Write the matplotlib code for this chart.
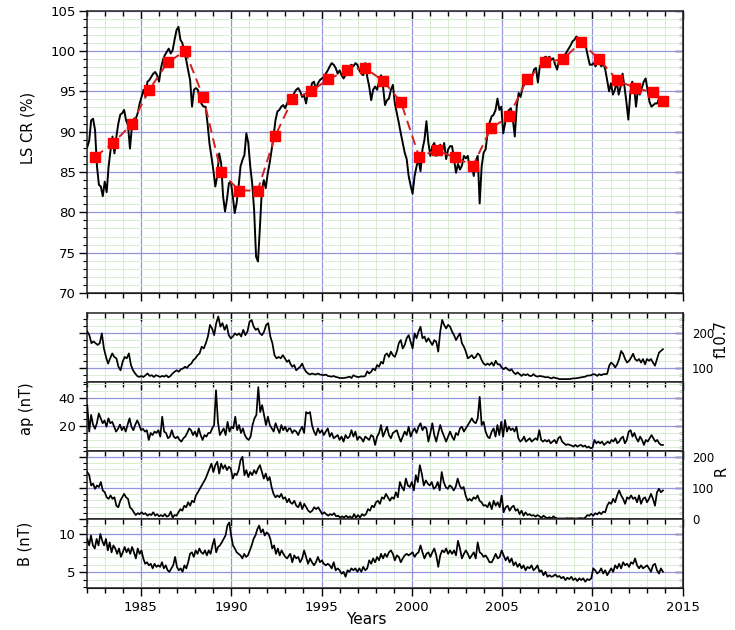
import numpy as np
import matplotlib
matplotlib.use('Agg')
import matplotlib.pyplot as plt
from matplotlib.ticker import MultipleLocator, NullFormatter

plt.rcParams['font.family'] = ['DejaVu Sans']

# the monthly-ish record is kept in three stretches, each evenly spaced in time
SEGMENTS = [(1982.03, 1993.2), (1993.27, 2004.3), (2004.42, 2013.9)]

# LS CR (%)
lscr_a = [88.1, 88.9, 91.4, 91.6, 90.2, 85.7, 83.4, 83.2, 82.0, 83.8,
          82.5, 85.7, 87.7, 89.4, 87.3, 89.4, 91.0, 92.1, 92.3, 92.7,
          91.4, 90.8, 87.9, 90.6, 91.6, 91.6, 92.3, 93.5, 94.3, 95.2,
          94.3, 96.2, 96.4, 96.8, 97.2, 97.4, 97.0, 96.2, 97.9, 98.9,
          99.5, 99.9, 100.3, 99.7, 100.1, 101.4, 102.6, 103.0, 101.4, 101.0,
          99.9, 98.9, 97.6, 96.4, 93.1, 95.2, 95.4, 95.2, 94.0, 93.4,
          93.1, 93.1, 91.0, 88.5, 86.9, 85.2, 83.2, 84.5, 87.3, 86.1,
          82.0, 80.1, 81.6, 83.6, 83.8, 82.0, 79.9, 81.2, 83.2, 85.7,
          86.5, 87.1, 89.8, 88.6, 85.7, 83.6, 80.3, 74.5, 73.9, 78.2,
          82.8, 84.0, 83.0, 84.8, 86.1, 87.7, 89.4, 91.4, 92.5, 92.7,
          93.1, 93.3, 92.9, 93.5, 94.0]
lscr_b = [93.7, 94.1, 94.8, 95.2, 95.4, 95.0, 94.3, 94.5, 93.5, 95.0,
          94.8, 96.0, 96.2, 95.2, 96.0, 96.4, 96.6, 96.8, 97.2, 97.6,
          98.1, 98.5, 98.3, 97.9, 97.2, 97.6, 97.0, 96.6, 97.0, 97.6,
          98.1, 98.3, 98.1, 98.5, 98.3, 97.6, 97.2, 97.0, 98.5, 96.8,
          95.6, 93.9, 95.2, 95.6, 95.2, 96.2, 97.0, 95.6, 93.3, 93.9,
          94.1, 95.2, 95.8, 93.5, 92.3, 91.1, 89.8, 88.6, 87.4, 86.6,
          84.5, 83.3, 82.3, 84.5, 85.7, 86.6, 85.1, 87.8, 89.0, 91.3,
          88.6, 87.0, 88.2, 88.6, 87.0, 87.4, 88.4, 87.6, 88.6, 86.6,
          87.8, 88.2, 88.2, 86.6, 84.9, 86.0, 85.3, 85.8, 87.0, 86.7,
          87.0, 85.3, 86.0, 84.5, 86.4, 87.0, 81.1, 85.7, 87.4, 87.8,
          89.8, 91.1]
lscr_c = [91.9, 92.1, 92.7, 94.1, 92.7, 93.1, 89.8, 91.1, 92.3, 92.7,
          92.9, 91.5, 89.4, 93.1, 94.8, 94.3, 95.4, 97.0, 97.0, 96.8,
          97.0, 96.8, 97.7, 97.9, 96.1, 98.1, 98.5, 99.1, 99.3, 99.1,
          99.3, 98.9, 99.1, 98.3, 97.7, 98.9, 99.1, 99.3, 99.5, 99.9,
          100.3, 100.7, 101.2, 101.4, 101.8, 101.6, 101.6, 101.4, 101.2, 100.5,
          99.3, 98.3, 98.3, 98.5, 98.1, 98.9, 98.5, 98.1, 98.5, 97.7,
          96.4, 95.0, 96.0, 94.6, 95.2, 96.2, 94.6, 95.6, 97.2, 95.6,
          93.7, 91.5, 94.7, 96.2, 95.6, 93.1, 95.2, 94.6, 95.4, 96.2,
          96.6, 95.2, 93.7, 93.1, 93.3, 93.5, 93.5, 94.1, 93.9, 93.7]

# yearly smoothed LS CR
smooth_years = [1982.47, 1983.47, 1984.48, 1985.46, 1986.48, 1987.45, 1988.45,
                1989.43, 1990.44, 1991.46, 1992.44, 1993.39, 1994.40, 1995.38,
                1996.40, 1997.41, 1998.41, 1999.39, 2000.40, 2001.38, 2002.39,
                2003.39, 2004.37, 2005.38, 2006.38, 2007.37, 2008.37, 2009.37,
                2010.36, 2011.36, 2012.36, 2013.35, 2013.90]
smooth_vals = [86.9, 88.6, 90.9, 95.2, 98.6, 100.0, 94.3, 85.0, 82.7, 82.7,
               89.5, 94.0, 95.0, 96.5, 97.6, 97.9, 96.3, 93.7, 86.9, 87.7,
               86.8, 85.8, 90.4, 91.9, 96.5, 98.6, 99.0, 101.1, 99.0, 96.4,
               95.4, 94.9, 93.8]

# solar radio flux f10.7
f107_a = [203, 193, 170, 175, 170, 165, 170, 198, 155, 131,
          112, 127, 141, 131, 127, 103, 93, 117, 131, 127,
          141, 108, 93, 84, 77, 74, 77, 74, 79, 84,
          77, 79, 74, 79, 77, 74, 77, 75, 79, 73,
          77, 84, 89, 93, 89, 96, 98, 103, 100, 108,
          112, 122, 127, 136, 141, 160, 155, 170, 189, 222,
          212, 193, 227, 246, 217, 227, 208, 222, 193, 184,
          189, 198, 193, 198, 189, 208, 193, 203, 231, 236,
          217, 208, 212, 198, 193, 203, 222, 227, 189, 170,
          136, 127, 131, 127, 136, 127, 117, 122]
f107_b = [112, 103, 108, 93, 98, 103, 112, 98, 89, 84,
          81, 84, 82, 81, 84, 81, 80, 79, 81, 77,
          76, 75, 77, 74, 73, 71, 71, 71, 72, 73,
          75, 71, 79, 76, 74, 74, 76, 75, 77, 90,
          84, 89, 98, 93, 108, 103, 117, 112, 136, 141,
          131, 146, 136, 131, 146, 170, 179, 155, 165, 184,
          193, 174, 155, 198, 184, 203, 217, 184, 189, 174,
          184, 174, 165, 179, 174, 146, 203, 236, 222, 212,
          222, 217, 203, 193, 179, 189, 198, 170, 160, 146,
          127, 131, 136, 127, 131, 141, 136, 122, 112, 108,
          112, 108]
f107_c = [115, 106, 120, 110, 110, 101, 96, 101, 96, 92,
          96, 87, 82, 87, 82, 77, 82, 79, 82, 77,
          77, 82, 77, 75, 77, 76, 75, 73, 74, 72,
          70, 73, 71, 70, 68, 68, 68, 68, 68, 68,
          69, 70, 70, 71, 72, 73, 74, 75, 78, 78,
          79, 82, 81, 77, 82, 79, 82, 82, 83, 106,
          115, 110, 101, 110, 125, 148, 140, 125, 115, 120,
          129, 140, 125, 120, 125, 115, 125, 110, 125, 120,
          125, 115, 106, 125, 143, 148, 153]

# geomagnetic ap (nT)
ap_a = [35, 16, 28, 21, 18, 22, 29, 25.5, 22, 24,
        19.5, 25.5, 22, 23, 19.5, 16, 18, 21, 17, 19.5,
        16, 21, 25.5, 19.5, 17, 21, 24, 21, 17, 18,
        16, 17, 10, 15, 13.5, 16, 15, 17, 12.4, 26.7,
        16, 15, 11.2, 12.4, 17, 12.4, 11.2, 12.4, 10, 8.8,
        11.2, 12.4, 15, 18.3, 17, 13.5, 16, 12.4, 18.3, 13.5,
        10, 13.5, 12.4, 15, 15, 18.3, 20.7, 45.7, 23, 13.5,
        16, 18.3, 13.5, 23, 16, 19.5, 18.3, 26.7, 17, 20.7,
        15, 18.3, 13.5, 11.2, 10, 12.4, 20.7, 25.5, 27.9, 48,
        30, 35, 27.9, 20.7, 26.7, 20.7, 18.3, 16, 22, 18.3,
        15, 20.7, 17, 19.5, 16, 18.3]
ap_b = [18.3, 15, 17, 16, 13.5, 17, 19.5, 15, 30, 29,
        30, 20.7, 16, 13.5, 18.3, 15, 17, 13.5, 16, 18.3,
        12.4, 15, 11.2, 12.4, 13.5, 10, 12.4, 8.8, 13.5, 11.2,
        12.4, 17, 12.4, 16, 10, 12.4, 11.2, 8.8, 12.4, 11.2,
        10, 13.5, 12.4, 6.4, 12.4, 15, 20.7, 12.4, 16, 19.5,
        13.5, 11.2, 15, 16, 17, 12.4, 8.8, 12.4, 16, 13.5,
        19.5, 12.4, 16, 18.3, 15, 19.5, 22, 17, 19.5, 18.3,
        8.8, 15, 22, 13.5, 8.8, 15, 20.7, 16, 12.4, 8.8,
        12.4, 16, 12.4, 10, 15, 13.5, 18.3, 19.5, 16, 18.3,
        20.7, 23, 25.5, 23, 22, 25.5, 41, 20.7, 23, 16,
        12.4, 11.2]
ap_c = [16, 18.3, 12.4, 20.7, 13.5, 23, 12.4, 24.3, 16, 19.5,
        17, 18.3, 16, 19.5, 11.2, 8.8, 10, 12.4, 8.8, 10,
        11.2, 8.8, 10, 11.2, 10, 17, 10, 8.8, 10, 8.8,
        10, 7.6, 8.8, 10, 7.6, 11.2, 12.4, 8.8, 7.6, 6.4,
        6.9, 6.4, 6, 5.2, 6.4, 5.2, 6, 6.4, 5.2, 6,
        4.5, 5.2, 4, 4.5, 10, 7.6, 8.8, 7.6, 8.8, 6.4,
        7.6, 8.8, 7.6, 10, 8.8, 11.2, 7.6, 8.8, 11.2, 12.4,
        7.6, 10, 16, 17, 12.4, 15, 11.2, 8.8, 12.4, 10,
        6.4, 10, 8.8, 11.2, 13.5, 11.2, 8.8, 10, 7.6, 6.4,
        6.4]

# sunspot number R
r_a = [151, 141, 108, 114, 97, 108, 103, 119, 92, 86,
       70, 65, 76, 65, 70, 43, 38, 59, 70, 81,
       70, 65, 38, 32, 22, 13, 19, 16, 22, 16,
       19, 11, 16, 13, 22, 11, 16, 9, 13, 9,
       16, 8, 11, 24, 5, 13, 11, 22, 32, 27,
       43, 38, 54, 43, 59, 54, 76, 86, 97, 108,
       119, 130, 146, 162, 178, 151, 173, 184, 146, 178,
       162, 173, 157, 168, 162, 130, 146, 141, 157, 189,
       200, 141, 157, 135, 151, 141, 157, 146, 162, 173,
       151, 130, 146, 124, 135, 103, 81, 70, 76, 70,
       81, 65, 70, 54, 65]
r_b = [54, 49, 59, 43, 38, 54, 32, 49, 38, 27,
       22, 27, 38, 32, 38, 27, 16, 22, 16, 11,
       16, 13, 19, 9, 11, 5, 9, 5, 11, 5,
       9, 2, 16, 5, 13, 5, 16, 11, 16, 32,
       27, 43, 38, 54, 59, 49, 70, 65, 81, 70,
       59, 70, 65, 86, 70, 119, 103, 92, 130, 108,
       103, 119, 92, 141, 119, 173, 146, 108, 124, 114,
       108, 119, 97, 103, 119, 92, 151, 119, 103, 97,
       108, 103, 92, 103, 130, 108, 97, 103, 76, 59,
       65, 59, 70, 65, 76, 59, 54, 43, 45, 38,
       54]
r_c = [32, 59, 43, 54, 38, 76, 22, 38, 43, 27,
       38, 43, 27, 32, 16, 27, 11, 22, 13, 16,
       11, 13, 8, 13, 9, 4, 11, 6, 3, 6,
       2, 9, 4, 2, 2, 2, 2, 2, 3, 2,
       3, 2, 2, 2, 3, 3, 2, 5, 13, 11,
       17, 11, 19, 15, 22, 16, 24, 22, 43, 54,
       49, 65, 54, 76, 92, 76, 65, 49, 70, 65,
       76, 65, 70, 54, 76, 49, 65, 70, 54, 65,
       81, 65, 43, 86, 97, 86, 92]

# interplanetary magnetic field B (nT)
b_a = [9.35, 8.5, 9.8, 8.5, 8.1, 9.35, 8.5, 10.0, 9.1, 8.5,
       9.35, 7.85, 8.9, 7.6, 8.5, 8.1, 7.4, 8.1, 7.0, 7.6,
       8.3, 7.6, 8.1, 7.4, 8.3, 7.6, 6.8, 8.1, 7.4, 7.85,
       6.8, 6.1, 6.3, 5.9, 6.1, 5.5, 6.1, 5.7, 5.9, 5.7,
       6.3, 5.5, 5.9, 5.25, 5.05, 5.5, 5.9, 7.0, 5.7, 5.25,
       5.5, 5.05, 5.9, 5.5, 6.3, 7.4, 7.6, 7.0, 7.85, 7.4,
       8.1, 7.6, 7.4, 7.85, 7.2, 7.85, 7.4, 8.5, 9.35, 7.6,
       8.3, 8.5, 8.9, 9.35, 9.8, 11.1, 11.5, 9.8, 8.5, 8.1,
       7.6, 7.4, 7.2, 6.8, 7.4, 7.0, 7.2, 7.85, 8.5, 9.35,
       9.8, 10.6, 11.1, 10.2, 10.6, 9.8, 10.2, 10.0, 9.35, 8.1,
       8.5, 7.4, 8.1, 7.2, 7.85, 7.4, 7.0, 6.8, 7.2]
b_b = [7.4, 6.3, 7.2, 6.8, 7.0, 6.3, 6.8, 7.85, 7.0, 6.1,
       6.8, 6.3, 5.9, 6.3, 7.0, 6.3, 6.55, 6.1, 5.9, 6.1,
       5.9, 5.5, 6.3, 5.25, 5.5, 5.25, 4.8, 5.05, 4.4, 5.25,
       5.05, 5.5, 5.25, 5.5, 5.05, 5.5, 5.05, 5.7, 5.25, 5.5,
       6.55, 6.1, 6.8, 6.3, 7.0, 6.55, 7.4, 6.8, 7.4, 7.0,
       7.6, 7.85, 7.4, 6.55, 7.2, 7.0, 6.3, 6.8, 7.2, 7.4,
       7.2, 7.4, 7.6, 7.0, 7.4, 7.6, 8.5, 7.6, 6.8, 7.4,
       7.6, 7.0, 7.6, 8.1, 7.2, 5.7, 7.2, 7.85, 7.6, 8.1,
       7.4, 7.85, 7.4, 7.85, 7.2, 9.1, 8.1, 6.8, 7.4, 7.85,
       7.4, 6.8, 7.2, 7.6, 6.8, 8.9, 7.6, 7.4, 7.0, 7.2,
       6.8, 6.3]
b_c = [6.3, 6.8, 7.4, 6.8, 7.0, 7.85, 7.2, 6.55, 7.0, 6.3,
       6.8, 5.9, 6.3, 5.7, 6.1, 5.5, 5.9, 5.25, 5.7, 5.5,
       5.9, 5.25, 5.5, 5.9, 5.05, 5.25, 4.6, 5.05, 4.4, 4.6,
       4.4, 4.5, 4.7, 4.4, 4.5, 4.2, 4.4, 3.97, 4.27, 4.1,
       4.4, 3.97, 4.2, 3.84, 4.2, 3.97, 4.2, 3.75, 4.1, 3.97,
       4.2, 5.5, 5.25, 4.83, 5.05, 5.5, 4.83, 5.25, 4.6, 5.05,
       5.5, 5.05, 5.9, 5.5, 6.1, 5.5, 6.3, 5.9, 6.1, 5.7,
       6.3, 6.1, 6.8, 5.9, 5.5, 5.9, 5.5, 5.7, 5.9, 5.5,
       5.05, 5.9, 6.1, 5.25, 4.83, 5.5, 5.05]

MAJOR_GRID = '#9494dc'
MINOR_GRID = '#d8eed4'
TICK_FS = 9.5
LABEL_FS = 10.5


def stitch(*parts):
    """time axis and values for a record given in three stretches"""
    t = np.concatenate([np.linspace(a, b, len(p)) for (a, b), p in zip(SEGMENTS, parts)])
    v = np.concatenate([np.asarray(p, dtype=float) for p in parts])
    return t, v


def style(ax, ylim, ymaj, ymin, left_labels, right_labels, bottom, year_labels=False):
    ax.set_xlim(1982, 2015)
    ax.set_ylim(*ylim)
    ax.xaxis.set_major_locator(MultipleLocator(5))
    ax.xaxis.set_minor_locator(MultipleLocator(1))
    ax.yaxis.set_major_locator(MultipleLocator(ymaj))
    ax.yaxis.set_minor_locator(MultipleLocator(ymin))
    ax.grid(which='minor', color=MINOR_GRID, lw=0.7)
    ax.grid(which='major', color=MAJOR_GRID, lw=0.9)
    ax.set_axisbelow(True)
    for s in ax.spines.values():
        s.set_linewidth(1.1)
        s.set_color('#222222')

    # left side: outward ticks
    ax.tick_params(axis='y', which='both', direction='out', right=False,
                   labelleft=left_labels, labelsize=TICK_FS, pad=2)
    ax.tick_params(axis='y', which='major', length=6, width=1)
    ax.tick_params(axis='y', which='minor', length=3, width=0.8)

    # top edge: inward ticks; year labels (if any) sit below the outward ticks
    ax.tick_params(axis='x', which='both', direction='in', top=True,
                   bottom=False, labelbottom=year_labels, width=1,
                   labelsize=TICK_FS, pad=9.5)
    ax.tick_params(axis='x', which='major', length=6)
    ax.tick_params(axis='x', which='minor', length=3.5)

    # bottom edge: outward ticks only where a panel edge is free
    if bottom:
        sec = ax.secondary_xaxis('bottom')
        sec.xaxis.set_major_locator(MultipleLocator(5))
        sec.xaxis.set_minor_locator(MultipleLocator(1))
        sec.xaxis.set_major_formatter(NullFormatter())
        sec.tick_params(which='both', direction='out', width=1)
        sec.tick_params(which='major', length=6)
        sec.tick_params(which='minor', length=3.5)

    right = ax.secondary_yaxis('right')
    right.yaxis.set_major_locator(MultipleLocator(ymaj))
    right.yaxis.set_minor_locator(MultipleLocator(ymin))
    right.tick_params(which='both', direction='in', width=1,
                      labelright=right_labels, labelsize=8.5, pad=6.5)
    right.tick_params(which='major', length=6)
    right.tick_params(which='minor', length=3)
    if not right_labels:
        right.yaxis.set_major_formatter(NullFormatter())
    return ax


fig = plt.figure(figsize=(7.35, 6.3), dpi=100)
LEFT, WIDTH = 0.118, 0.811

# top panel: LS CR
ax_cr = fig.add_axes([LEFT, 0.535, WIDTH, 0.448])
style(ax_cr, (70, 105), 5, 1, True, False, True)
t_cr, v_cr = stitch(lscr_a, lscr_b, lscr_c)
ax_cr.plot(t_cr, v_cr, color='black', lw=1.4, zorder=3)
ax_cr.plot(smooth_years, smooth_vals, color='#d42020', lw=1.4,
           ls=(0, (5, 3)), zorder=4)
ax_cr.plot(smooth_years, smooth_vals, ls='none', marker='s', ms=7,
           color='#ff0000', mec='#ff0000', zorder=5)

# lower stack
low_top, low_bottom = 0.5027, 0.0671
h = (low_top - low_bottom) / 4
ax_f = fig.add_axes([LEFT, low_top - h, WIDTH, h])
ax_ap = fig.add_axes([LEFT, low_top - 2 * h, WIDTH, h])
ax_r = fig.add_axes([LEFT, low_top - 3 * h, WIDTH, h])
ax_b = fig.add_axes([LEFT, low_top - 4 * h, WIDTH, h])

style(ax_f, (60, 255), 100, 20, False, True, False)
style(ax_ap, (2.4, 51.7), 20, 5, True, False, False)
style(ax_r, (0, 220), 100, 20, False, True, False)
style(ax_b, (2.97, 11.94), 5, 1, True, False, True, year_labels=True)

for ax, parts in [(ax_f, (f107_a, f107_b, f107_c)),
                  (ax_ap, (ap_a, ap_b, ap_c)),
                  (ax_r, (r_a, r_b, r_c)),
                  (ax_b, (b_a, b_b, b_c))]:
    t, v = stitch(*parts)
    ax.plot(t, v, color='black', lw=1.25, zorder=3)

# axis titles
fig.text(0.038, 0.797, 'LS CR (%)', rotation=90, ha='center', va='center', fontsize=LABEL_FS)
fig.text(0.036, 0.352, 'ap (nT)', rotation=90, ha='center', va='center', fontsize=LABEL_FS)
fig.text(0.034, 0.136, 'B (nT)', rotation=90, ha='center', va='center', fontsize=LABEL_FS)
fig.text(0.981, 0.462, 'f10.7', rotation=90, ha='center', va='center', fontsize=LABEL_FS)
fig.text(0.981, 0.252, 'R', rotation=90, ha='center', va='center', fontsize=LABEL_FS)
fig.text(0.498, 0.016, 'Years', ha='center', va='center', fontsize=11)

fig.savefig('out.png', dpi=100)
